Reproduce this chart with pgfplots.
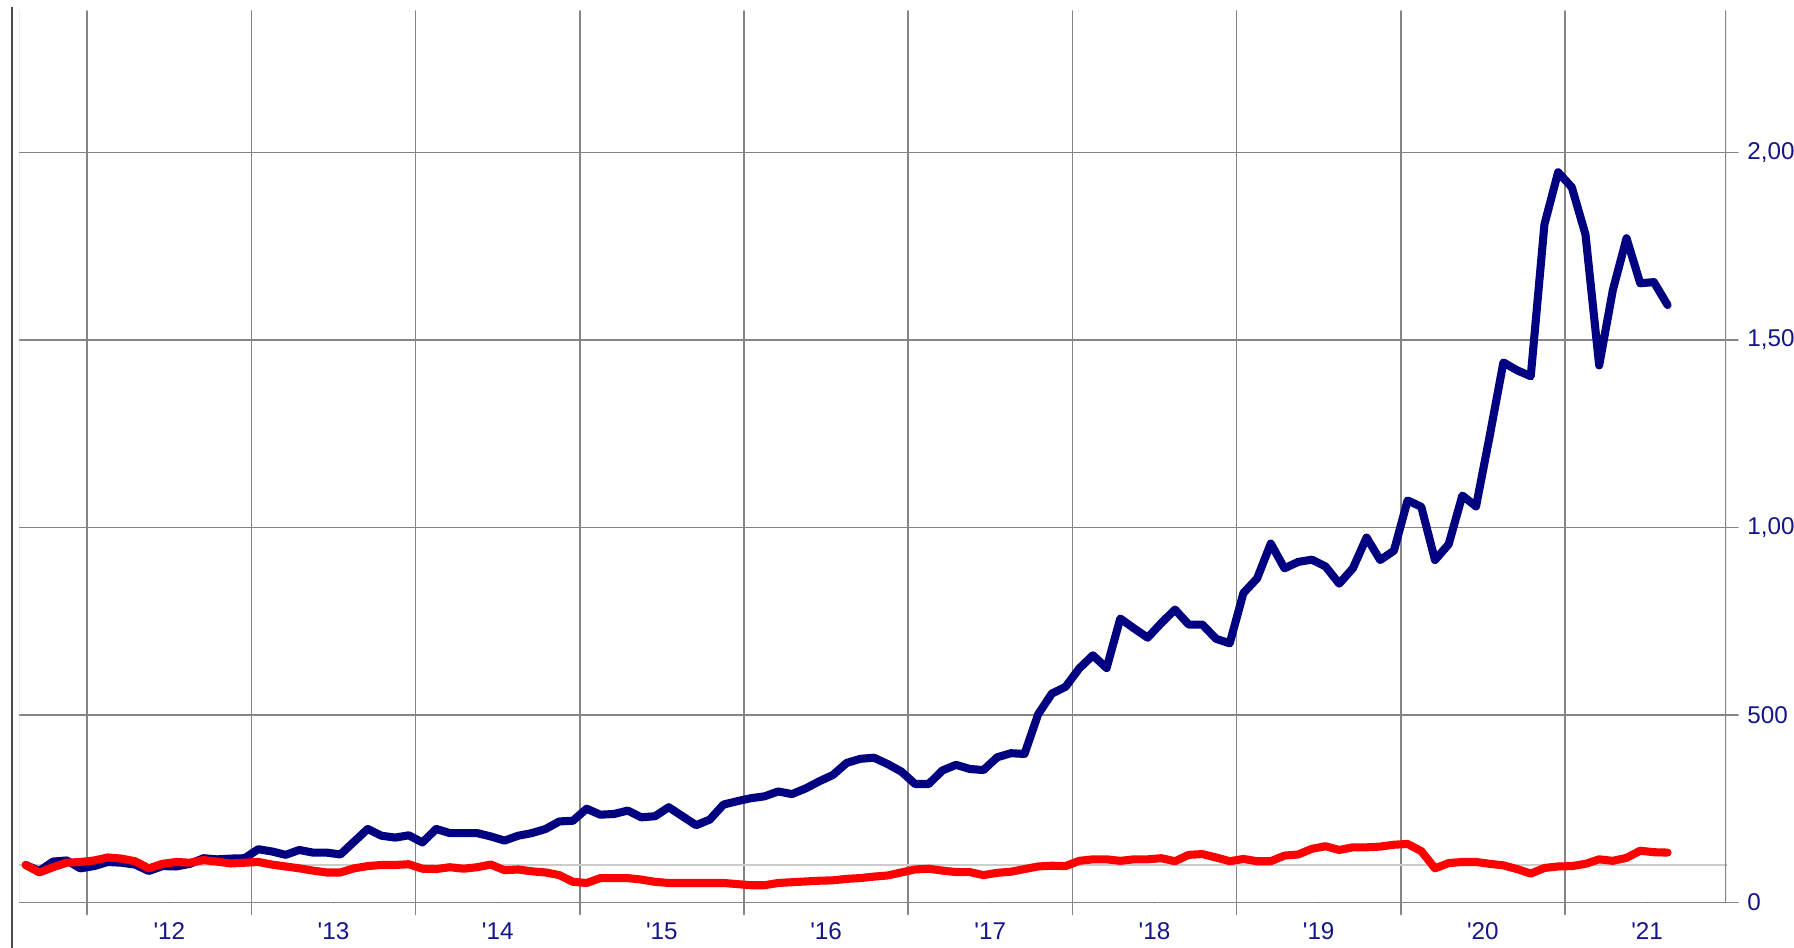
\documentclass[border=0pt]{standalone}
\usepackage{fontspec}
\setmainfont{Liberation Sans}
\usepackage{pgfplots}
\usepackage{pgfplotstable}
\pgfplotsset{compat=1.18}
\definecolor{idxblue}{HTML}{000080}
\definecolor{idxred}{HTML}{FF0000}
\definecolor{gridgray}{HTML}{858585}
\definecolor{lblblue}{HTML}{14148C}

% months since Jan 2012, blue index, red index
\pgfplotstableread{
m b r
-4.5 100 100
-3.5 84 80
-2.5 109 94
-1.5 112 106
-0.5 91 108
0.5 97 112
1.5 108 120
2.5 106 117
3.5 101 110
4.5 84 91
5.5 97 103
6.5 96 108
7.5 103 106
8.5 118 113
9.5 115 109
10.5 117 104
11.5 118 106
12.5 142 108
13.5 136 101
14.5 127 96
15.5 140 91
16.5 133 85
17.5 133 80
18.5 128 80
19.5 162 91
20.5 196 97
21.5 178 100
22.5 173 100
23.5 179 102
24.5 160 90
25.5 196 89
26.5 185 94
27.5 185 90
28.5 185 94
29.5 176 101
30.5 165 86
31.5 178 88
32.5 185 83
33.5 196 80
34.5 216 73
35.5 218 55
36.5 250 52
37.5 234 65
38.5 236 65
39.5 245 65
40.5 227 61
41.5 230 55
42.5 254 52
43.5 230 52
44.5 206 52
45.5 221 52
46.5 261 52
47.5 270 49
48.5 278 46
49.5 283 46
50.5 296 52
51.5 289 54
52.5 304 56
53.5 323 58
54.5 340 59
55.5 372 63
56.5 383 65
57.5 386 69
58.5 369 72
59.5 349 80
60.5 316 88
61.5 316 90
62.5 352 85
63.5 367 81
64.5 356 81
65.5 353 73
66.5 387 79
67.5 398 82
68.5 396 89
69.5 502 96
70.5 557 98
71.5 575 97
72.5 624 111
73.5 659 115
74.5 625 115
75.5 757 111
76.5 731 115
77.5 706 115
78.5 745 118
79.5 781 110
80.5 741 127
81.5 741 129
82.5 703 120
83.5 691 110
84.5 825 116
85.5 864 110
86.5 957 110
87.5 891 125
88.5 908 128
89.5 914 143
90.5 896 150
91.5 850 140
92.5 891 147
93.5 973 147
94.5 913 149
95.5 938 154
96.5 1072 156
97.5 1055 137
98.5 913 91
99.5 955 105
100.5 1085 108
101.5 1056 108
102.5 1244 103
103.5 1440 99
104.5 1419 89
105.5 1403 77
106.5 1808 92
107.5 1947 96
108.5 1907 97
109.5 1781 103
110.5 1432 115
111.5 1633 111
112.5 1771 119
113.5 1651 138
114.5 1654 134
115.5 1593 133
}\indexdata

\begin{document}
\begin{tikzpicture}
\draw[black!70, line width=0.4pt] (0.12,0) -- (0.12,9.41);
\begin{axis}[
  at={(0.195cm,0.455cm)}, anchor=south west,
  width=17.065cm, height=8.915cm, scale only axis,
  xmin=-4.95, xmax=119.77, ymin=0, ymax=2377,
  axis line style={draw=none},
  xtick={0,12,...,108}, xticklabels={},
  extra x ticks={6,18,...,114},
  extra x tick labels={\textquotesingle12,\textquotesingle13,\textquotesingle14,\textquotesingle15,\textquotesingle16,\textquotesingle17,\textquotesingle18,\textquotesingle19,\textquotesingle20,\textquotesingle21},
  extra x tick style={grid=none, major tick length=0pt, xticklabel style={yshift=-0.08cm}},
  ytick={0,500,...,2000}, yticklabels={0,500,{1,000},{1,500},{2,000}},
  extra y ticks={100}, extra y tick labels={},
  extra y tick style={major tick length=0pt, major grid style={gray!40, line width=0.45pt}},
  xtick pos=bottom, ytick pos=right, yticklabel pos=right,
  tick align=outside, major tick length=0.12cm,
  tick style={gridgray, line width=0.45pt},
  grid=major, major grid style={gridgray, line width=0.45pt},
  ticklabel style={font=\fontsize{6.9}{8}\selectfont, text=lblblue},
  yticklabel style={anchor=west, xshift=-0.03cm},
  line join=round, line cap=round,
]
\draw[gray!40, line width=0.45pt] (rel axis cs:0,0) -- (rel axis cs:0,1);
\draw[gridgray, line width=0.45pt] (rel axis cs:0,0) -- (rel axis cs:1,0) -- (rel axis cs:1,1);
\addplot[idxblue, line width=2.3pt, no marks] table[x=m, y=b] {\indexdata};
\addplot[idxred, line width=2.3pt, no marks] table[x=m, y=r] {\indexdata};
\end{axis}
\pgfresetboundingbox
\path[use as bounding box] (0,0) rectangle (17.94,9.48);
\end{tikzpicture}
\end{document}
